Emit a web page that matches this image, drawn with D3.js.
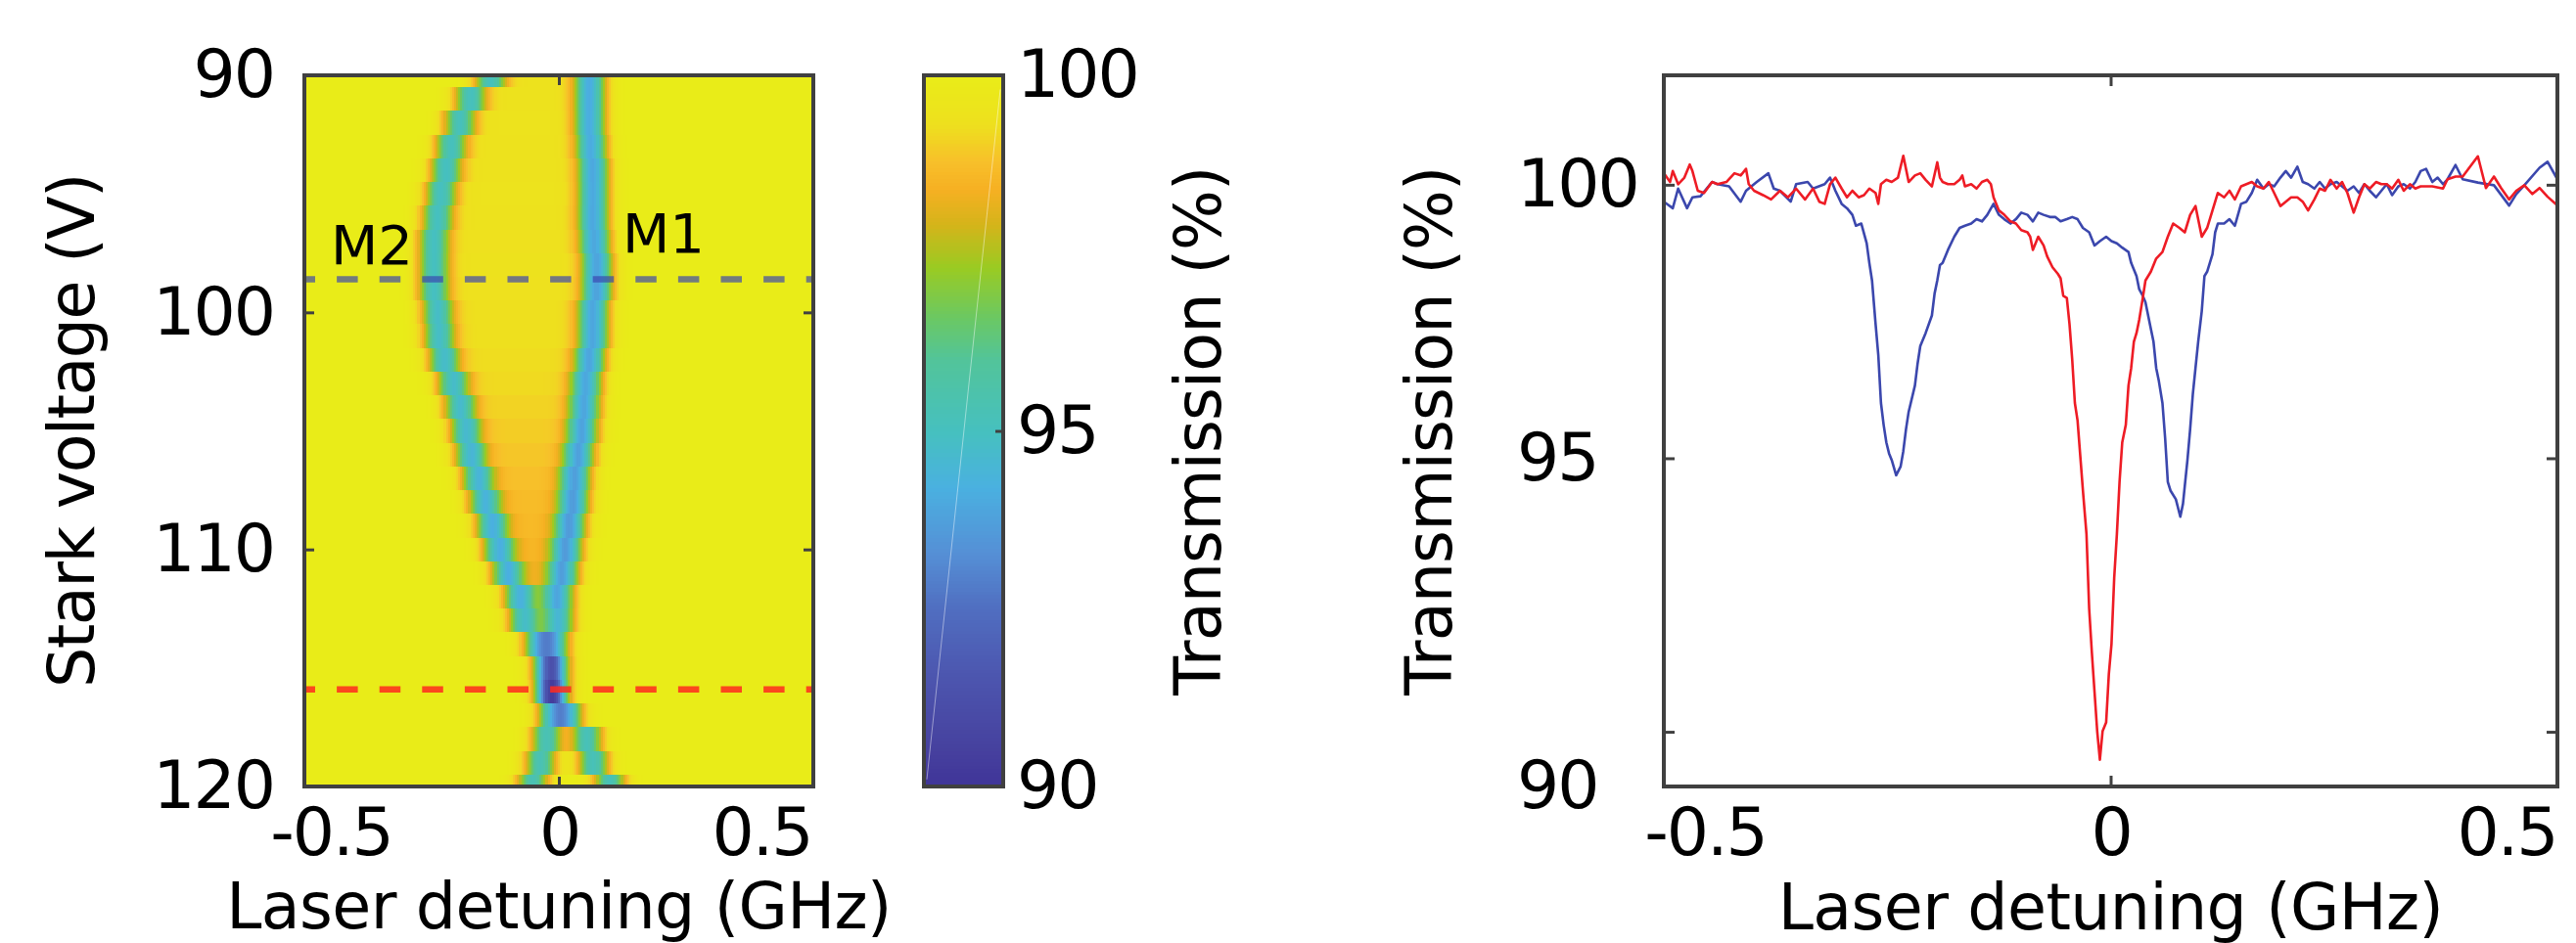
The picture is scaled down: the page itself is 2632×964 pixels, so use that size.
<!DOCTYPE html>
<html>
<head>
<meta charset="utf-8">
<script src="https://cdn.jsdelivr.net/npm/d3@7"></script>
<style>
  body { margin: 0; background: #fff; }
  text { font-family: "DejaVu Sans", Verdana, sans-serif; fill: #000; }
</style>
</head>
<body>
<svg id="fig" width="2632" height="964"></svg>
<script>
// ---------- heat map rows (one row per Stark voltage) ----------
const starkV = [90, 91, 92, 93, 94, 95, 96, 97, 98, 99, 100, 101, 102, 103, 104, 105,
  106, 107, 108, 109, 110, 111, 112, 113, 114, 115, 116, 117, 118, 119, 120];
// centre of the M2 (left) and M1 (right) dips, GHz
const m2Pos = [-0.136, -0.175, -0.196, -0.213, -0.223, -0.233, -0.240, -0.247, -0.247, -0.247,
  -0.240, -0.237, -0.227, -0.209, -0.196, -0.185, -0.175, -0.161, -0.148, -0.134, -0.120,
  -0.103, -0.079, -0.069, -0.040, -0.022, -0.016, -0.012, -0.024, -0.036, -0.051];
const m1Pos = [0.062, 0.062, 0.062, 0.065, 0.069, 0.069, 0.069, 0.072, 0.076, 0.076,
  0.069, 0.069, 0.062, 0.055, 0.052, 0.048, 0.041, 0.034, 0.031, 0.024, 0.017,
  0.010, 0.000, 0.000, -0.008, -0.008, -0.012, 0.018, 0.055, 0.068, 0.100];
// dip depths (% below 100)
const m2Depth = [4.6, 4.6, 4.6, 4.6, 4.7, 4.7, 4.7, 4.7, 4.7, 4.7, 4.8, 4.8, 4.8, 4.8, 4.8, 4.8,
  4.9, 4.9, 4.9, 5.0, 5.0, 5.0, 5.0, 4.9, 4.8, 4.6, 4.85, 4.6, 4.7, 4.7, 4.7];
const m1Depth = [5.6, 5.6, 5.6, 5.6, 5.7, 5.7, 5.7, 5.7, 5.8, 5.8, 5.7, 5.7, 5.7, 5.6, 5.6, 5.6,
  5.6, 5.6, 5.6, 5.6, 5.6, 5.5, 5.4, 5.2, 4.8, 4.6, 4.85, 4.6, 4.8, 4.8, 4.8];
// extra absorption between the two dips (orange band)
const innerDip = [0.6, 0.6, 0.55, 0.6, 0.6, 0.55, 0.6, 0.65, 0.6, 0.65, 0.7, 0.7, 0.75, 0.8, 0.9, 1.0,
  1.1, 1.2, 1.3, 1.35, 1.4, 1.4, 1.2, 0.5, 0, 0, 0, 0, 0, 0, 0];

// cuts shown on the right
const cutV = [98.6, 115.9];
const cutColor = ["#3a45b0", "#ff2a1f"];

// annotations
const modeLabels = ["M2", "M1"];
const modeX = [-0.448, 0.125];
const modeV = [97.97, 97.47];

// ---------- transmission traces (right panel) ----------
const blueX = [-0.500, -0.490, -0.484, -0.474, -0.468, -0.459, -0.446, -0.440, -0.427, -0.414,
  -0.408, -0.396, -0.383, -0.377, -0.370, -0.358, -0.352, -0.339, -0.333, -0.320, -0.314,
  -0.308, -0.301, -0.295, -0.289, -0.285, -0.279, -0.273, -0.270, -0.267, -0.263, -0.260,
  -0.257, -0.254, -0.251, -0.248, -0.245, -0.240, -0.235, -0.232, -0.229, -0.226, -0.219,
  -0.216, -0.213, -0.207, -0.200, -0.197, -0.194, -0.191, -0.188, -0.182, -0.175, -0.169,
  -0.163, -0.156, -0.150, -0.144, -0.138, -0.131, -0.125, -0.119, -0.112, -0.106, -0.100,
  -0.093, -0.087, -0.081, -0.075, -0.068, -0.062, -0.056, -0.049, -0.043, -0.037, -0.031,
  -0.024, -0.018, -0.012, -0.005, 0.001, 0.007, 0.013, 0.020, 0.023, 0.026, 0.029, 0.032,
  0.036, 0.039, 0.045, 0.048, 0.051, 0.054, 0.058, 0.061, 0.064, 0.067, 0.073, 0.078,
  0.081, 0.083, 0.086, 0.089, 0.092, 0.095, 0.098, 0.102, 0.105, 0.108, 0.111, 0.114,
  0.117, 0.120, 0.127, 0.133, 0.139, 0.146, 0.152, 0.158, 0.164, 0.171, 0.177, 0.183,
  0.190, 0.196, 0.202, 0.209, 0.215, 0.221, 0.228, 0.234, 0.240, 0.246, 0.253, 0.259,
  0.265, 0.272, 0.278, 0.284, 0.290, 0.297, 0.303, 0.309, 0.315, 0.322, 0.328, 0.335,
  0.341, 0.347, 0.353, 0.360, 0.366, 0.372, 0.377, 0.386, 0.394, 0.411, 0.429, 0.446,
  0.454, 0.463, 0.480, 0.489, 0.500];
const blueT = [99.69, 99.57, 99.93, 99.57, 99.77, 99.79, 100.05, 100.01, 99.97, 99.69,
  99.89, 100.05, 100.21, 99.93, 99.89, 99.69, 100.01, 100.05, 99.93, 100.01, 100.13,
  99.89, 99.65, 99.57, 99.45, 99.25, 99.29, 98.93, 98.57, 98.25, 97.45, 96.89,
  96.01, 95.61, 95.29, 95.09, 94.97, 94.69, 94.85, 95.13, 95.53, 95.85, 96.33,
  96.73, 97.05, 97.29, 97.61, 98.01, 98.25, 98.53, 98.57, 98.81, 99.05, 99.21,
  99.25, 99.29, 99.37, 99.33, 99.45, 99.65, 99.45, 99.37, 99.29, 99.37, 99.49,
  99.45, 99.33, 99.49, 99.45, 99.41, 99.41, 99.33, 99.37, 99.41, 99.37, 99.21,
  99.13, 98.89, 98.97, 99.05, 98.97, 98.93, 98.85, 98.77, 98.57, 98.45, 98.33, 98.09,
  97.97, 97.85, 97.37, 97.13, 96.65, 96.41, 96.01, 95.37, 94.57, 94.41, 94.25, 93.93,
  94.17, 94.49, 94.97, 95.53, 96.17, 96.65, 97.13, 97.69, 98.33, 98.41, 98.57, 98.73,
  99.13, 99.29, 99.29, 99.37, 99.25, 99.65, 99.69, 99.85, 100.09, 99.93, 100.01, 99.97,
  100.13, 100.25, 100.13, 100.33, 100.05, 100.01, 99.93, 100.05, 99.93, 100.01, 100.05, 99.97,
  99.89, 99.97, 99.85, 100.01, 99.89, 99.77, 99.89, 100.01, 99.81, 99.97, 100.01, 99.93,
  100.05, 100.25, 100.29, 100.05, 100.13, 100.01, 100.10, 100.36, 100.10, 100.04, 99.99, 99.62,
  99.83, 99.99, 100.31, 100.42, 100.10];

const redX = [-0.500, -0.493, -0.490, -0.484, -0.477, -0.471, -0.468, -0.462, -0.455, -0.446,
  -0.440, -0.430, -0.421, -0.414, -0.408, -0.405, -0.399, -0.389, -0.380, -0.370, -0.361,
  -0.352, -0.342, -0.333, -0.326, -0.320, -0.314, -0.308, -0.301, -0.295, -0.289, -0.282,
  -0.276, -0.270, -0.263, -0.260, -0.257, -0.251, -0.245, -0.238, -0.232, -0.229, -0.226,
  -0.219, -0.213, -0.207, -0.200, -0.194, -0.191, -0.188, -0.182, -0.175, -0.169, -0.166,
  -0.163, -0.156, -0.150, -0.144, -0.138, -0.134, -0.131, -0.125, -0.119, -0.112, -0.106,
  -0.100, -0.093, -0.090, -0.087, -0.081, -0.075, -0.071, -0.065, -0.059, -0.056, -0.053,
  -0.049, -0.046, -0.043, -0.040, -0.037, -0.034, -0.031, -0.027, -0.024, -0.021, -0.018,
  -0.015, -0.012, -0.009, -0.005, -0.002, 0.001, 0.004, 0.007, 0.010, 0.013, 0.017,
  0.020, 0.023, 0.026, 0.029, 0.032, 0.036, 0.039, 0.045, 0.051, 0.058, 0.064, 0.070,
  0.077, 0.083, 0.089, 0.095, 0.102, 0.108, 0.114, 0.120, 0.127, 0.133, 0.139, 0.146,
  0.152, 0.158, 0.164, 0.171, 0.177, 0.183, 0.190, 0.196, 0.202, 0.209, 0.215, 0.221,
  0.228, 0.234, 0.240, 0.246, 0.253, 0.259, 0.265, 0.272, 0.278, 0.284, 0.290, 0.297,
  0.303, 0.309, 0.315, 0.322, 0.328, 0.335, 0.341, 0.347, 0.360, 0.372, 0.377, 0.386,
  0.394, 0.411, 0.420, 0.429, 0.437, 0.446, 0.454, 0.463, 0.472, 0.480, 0.489, 0.500];
const redT = [100.21, 100.05, 100.25, 100.01, 100.13, 100.37, 100.25, 99.89, 99.85, 100.05,
  100.01, 100.05, 100.21, 100.17, 100.29, 100.01, 99.89, 99.81, 99.73, 99.89, 99.77,
  99.93, 99.73, 99.93, 99.69, 99.65, 100.01, 100.13, 99.93, 99.77, 99.89, 99.77,
  99.81, 99.93, 99.85, 99.65, 100.01, 100.09, 100.05, 100.13, 100.53, 100.29, 100.05,
  100.17, 100.21, 100.09, 99.97, 100.41, 100.13, 100.05, 100.01, 100.01, 100.09, 100.17,
  99.97, 100.01, 99.93, 100.05, 100.09, 100.01, 99.77, 99.53, 99.45, 99.33, 99.29,
  99.17, 99.13, 99.05, 98.81, 99.05, 98.89, 98.69, 98.49, 98.37, 98.29, 97.97,
  97.93, 97.45, 96.81, 96.01, 95.69, 95.05, 94.41, 93.61, 92.25, 91.45, 90.73,
  90.01, 89.49, 90.01, 90.17, 91.05, 91.61, 92.81, 93.61, 94.57, 95.29, 95.61,
  96.33, 96.65, 97.13, 97.29, 97.53, 97.93, 98.25, 98.41, 98.65, 98.77, 99.05, 99.29,
  99.21, 99.13, 99.45, 99.61, 99.05, 99.21, 99.53, 99.85, 99.77, 99.89, 99.73, 99.97,
  100.01, 100.05, 99.97, 99.93, 100.05, 99.85, 99.61, 99.69, 99.77, 99.77, 99.69, 99.53,
  99.73, 99.93, 99.89, 100.09, 99.93, 100.05, 99.85, 99.49, 99.77, 100.01, 99.93, 100.05,
  100.01, 100.01, 99.93, 100.09, 99.89, 100.01, 99.93, 99.97, 99.97, 99.93, 100.10, 100.15,
  100.15, 100.52, 99.94, 100.15, 99.94, 99.73, 99.89, 99.99, 99.83, 99.94, 99.78, 99.62];

// ---------- ticks ----------
const detTicks = [-0.5, 0, 0.5];
const starkTicks = [90, 100, 110, 120];
const cbarTicks = [90, 95, 100];
const transTicks = [90, 95, 100];

// colour map
const cmapT = [90, 90.5, 91.5, 92.5, 93.3, 94.2, 95.0, 96.0, 96.6, 97.3, 97.9, 98.4, 98.8, 99.3, 100];
const cmapC = ["#3f3498", "#46409e", "#4c54ae", "#506ec0", "#5590d6", "#4ab0e0", "#46c0bf",
  "#52c49a", "#6bc862", "#9acb22", "#d4b41a", "#f6b022", "#f7c02a", "#eee01e", "#e9ec18"];

// ---------- drawing ----------
const svg = d3.select("#fig");
const frameColor = "#404040";
const tickFont = 68;
const labelFont = 65;

const cmap = d3.scaleLinear().domain(cmapT).range(cmapC).clamp(true);

// left heat map
const hx = d3.scaleLinear().domain([-0.5, 0.5]).range([311, 831]);
const hy = d3.scaleLinear().domain([90, 120]).range([77, 804]);

const defs = svg.append("defs");
defs.append("clipPath").attr("id", "heatClip").append("rect")
  .attr("x", hx(-0.5)).attr("y", hy(90))
  .attr("width", hx(0.5) - hx(-0.5)).attr("height", hy(120) - hy(90));

const sigma = 0.021;
const gauss = (x, c) => Math.exp(-((x - c) ** 2) / (2 * sigma * sigma));
const edge = u => 1 / (1 + Math.exp(-u / 0.006));
const colStep = 0.004;
const cols = d3.range(-0.5, 0.5 + 1e-9, colStep);

const cells = [];
starkV.forEach((v, i) => {
  cols.forEach(x => {
    const t = 100 - m2Depth[i] * gauss(x, m2Pos[i]) - m1Depth[i] * gauss(x, m1Pos[i])
      - innerDip[i] * edge(x - m2Pos[i]) * edge(m1Pos[i] - x);
    cells.push({ v, x, t });
  });
});

const heat = svg.append("g").attr("clip-path", "url(#heatClip)");
heat.selectAll("rect")
  .data(cells)
  .enter()
  .append("rect")
  .attr("x", d => hx(d.x - colStep / 2))
  .attr("y", d => hy(d.v - 0.5))
  .attr("width", hx(colStep) - hx(0) + 0.7)
  .attr("height", hy(1) - hy(0) + 0.7)
  .attr("fill", d => cmap(d.t))
  .attr("shape-rendering", "crispEdges");

// dashed cut lines
heat.selectAll("line.cut")
  .data(cutV)
  .enter()
  .append("line")
  .attr("class", "cut")
  .attr("x1", hx(-0.5)).attr("x2", hx(0.5))
  .attr("y1", d => hy(d)).attr("y2", d => hy(d))
  .attr("stroke", (d, i) => cutColor[i])
  .attr("stroke-opacity", (d, i) => i === 0 ? 0.68 : 0.85)
  .attr("stroke-width", 6.5)
  .attr("stroke-dasharray", "21.5,22.1")
  .attr("stroke-dashoffset", 10.5);

// mode labels
svg.selectAll("text.mode")
  .data(modeLabels)
  .enter()
  .append("text")
  .attr("class", "mode")
  .attr("x", (d, i) => hx(modeX[i]))
  .attr("y", (d, i) => hy(modeV[i]))
  .attr("font-size", 56)
  .text(d => d);

// frame
svg.append("rect")
  .attr("x", hx(-0.5)).attr("y", hy(90))
  .attr("width", hx(0.5) - hx(-0.5)).attr("height", hy(120) - hy(90))
  .attr("fill", "none").attr("stroke", frameColor).attr("stroke-width", 4);

function styleAxis(g, withText) {
  g.select(".domain").remove();
  g.selectAll(".tick line").attr("stroke", frameColor).attr("stroke-width", 3);
  if (withText) {
    g.selectAll(".tick text").attr("font-size", tickFont)
      .attr("font-family", "DejaVu Sans, Verdana, sans-serif")
      .attr("fill", "#000").attr("letter-spacing", -2);
  } else {
    g.selectAll(".tick text").remove();
  }
}

// heat map axes
svg.append("g").attr("transform", `translate(0,${hy(120)})`)
  .call(d3.axisBottom(hx).tickValues(detTicks).tickSize(-10).tickPadding(22).tickFormat(d => String(d)))
  .call(g => styleAxis(g, true))
  .call(g => g.selectAll(".tick text").attr("dx", d => d < 0 ? 27 : d > 0 ? -53 : 0));
svg.append("g").attr("transform", `translate(0,${hy(90)})`)
  .call(d3.axisTop(hx).tickValues(detTicks).tickSize(-10))
  .call(g => styleAxis(g, false));
svg.append("g").attr("transform", `translate(${hx(-0.5)},0)`)
  .call(d3.axisLeft(hy).tickValues(starkTicks).tickSize(-10).tickPadding(31))
  .call(g => styleAxis(g, true));
svg.append("g").attr("transform", `translate(${hx(0.5)},0)`)
  .call(d3.axisRight(hy).tickValues(starkTicks).tickSize(-10))
  .call(g => styleAxis(g, false));

svg.append("text")
  .attr("transform", `translate(96,${(hy(90) + hy(120)) / 2}) rotate(-90)`)
  .attr("text-anchor", "middle").attr("font-size", labelFont).attr("letter-spacing", -1.5)
  .text("Stark voltage (V)");
svg.append("text")
  .attr("x", hx(0)).attr("y", 949)
  .attr("text-anchor", "middle").attr("font-size", labelFont).attr("letter-spacing", -0.6)
  .text("Laser detuning (GHz)");

// colour bar
const cy = d3.scaleLinear().domain([90, 100]).range([804, 77]);
const cbX0 = 944, cbX1 = 1025;
const cbStep = 0.05;
const cbVals = d3.range(90, 100, cbStep);
svg.append("g").selectAll("rect")
  .data(cbVals)
  .enter()
  .append("rect")
  .attr("x", cbX0).attr("width", cbX1 - cbX0)
  .attr("y", d => cy(d + cbStep))
  .attr("height", cy(90) - cy(90 + cbStep) + 0.6)
  .attr("fill", d => cmap(d + cbStep / 2))
  .attr("shape-rendering", "crispEdges");
svg.append("line")
  .attr("x1", cbX0 + 3).attr("y1", cy(90.1)).attr("x2", cbX1 - 3).attr("y2", cy(99.8))
  .attr("stroke", "#fff").attr("stroke-opacity", 0.45).attr("stroke-width", 1);
svg.append("rect")
  .attr("x", cbX0).attr("y", cy(100)).attr("width", cbX1 - cbX0).attr("height", cy(90) - cy(100))
  .attr("fill", "none").attr("stroke", frameColor).attr("stroke-width", 4);
svg.append("g").attr("transform", `translate(${cbX1},0)`)
  .call(d3.axisRight(cy).tickValues(cbarTicks).tickSize(-8).tickPadding(14))
  .call(g => styleAxis(g, true));
svg.append("text")
  .attr("transform", `translate(1247,${(cy(90) + cy(100)) / 2}) rotate(-90)`)
  .attr("text-anchor", "middle").attr("font-size", labelFont).attr("letter-spacing", -0.8)
  .text("Transmission (%)");

// right panel: transmission traces
const tx = d3.scaleLinear().domain([-0.5, 0.5]).range([1700, 2613]);
const ty = d3.scaleLinear().domain([89, 102]).range([804, 77]);

defs.append("clipPath").attr("id", "traceClip").append("rect")
  .attr("x", tx(-0.5)).attr("y", ty(102))
  .attr("width", tx(0.5) - tx(-0.5)).attr("height", ty(89) - ty(102));

const line = d3.line().x(d => tx(d[0])).y(d => ty(d[1]));
const traces = [
  { color: "#3b47ad", pts: d3.zip(blueX, blueT) },
  { color: "#ee1c25", pts: d3.zip(redX, redT) }
];
svg.append("g").attr("clip-path", "url(#traceClip)")
  .selectAll("path")
  .data(traces)
  .enter()
  .append("path")
  .attr("d", d => line(d.pts))
  .attr("fill", "none")
  .attr("stroke", d => d.color)
  .attr("stroke-width", 2.6)
  .attr("stroke-linejoin", "round");

svg.append("rect")
  .attr("x", tx(-0.5)).attr("y", ty(102)).attr("width", tx(0.5) - tx(-0.5)).attr("height", ty(89) - ty(102))
  .attr("fill", "none").attr("stroke", frameColor).attr("stroke-width", 4);

svg.append("g").attr("transform", `translate(0,${ty(89)})`)
  .call(d3.axisBottom(tx).tickValues(detTicks).tickSize(-11).tickPadding(22).tickFormat(d => String(d)))
  .call(g => styleAxis(g, true))
  .call(g => g.selectAll(".tick text").attr("dx", d => d < 0 ? 42 : d > 0 ? -52 : 0));
svg.append("g").attr("transform", `translate(0,${ty(102)})`)
  .call(d3.axisTop(tx).tickValues(detTicks).tickSize(-11))
  .call(g => styleAxis(g, false));
svg.append("g").attr("transform", `translate(${tx(-0.5)},0)`)
  .call(d3.axisLeft(ty).tickValues(transTicks).tickSize(-11))
  .call(g => styleAxis(g, true))
  .call(g => g.selectAll(".tick text")
    .attr("text-anchor", "start").attr("x", -150)
    .attr("y", d => d === 90 ? ty(89) - ty(90) : 0));
svg.append("g").attr("transform", `translate(${tx(0.5)},0)`)
  .call(d3.axisRight(ty).tickValues(transTicks).tickSize(-11))
  .call(g => styleAxis(g, false));

svg.append("text")
  .attr("transform", `translate(1483,${(ty(89) + ty(102)) / 2}) rotate(-90)`)
  .attr("text-anchor", "middle").attr("font-size", labelFont).attr("letter-spacing", -0.8)
  .text("Transmission (%)");
svg.append("text")
  .attr("x", tx(0)).attr("y", 950)
  .attr("text-anchor", "middle").attr("font-size", labelFont).attr("letter-spacing", -0.6)
  .text("Laser detuning (GHz)");
</script>
</body>
</html>
